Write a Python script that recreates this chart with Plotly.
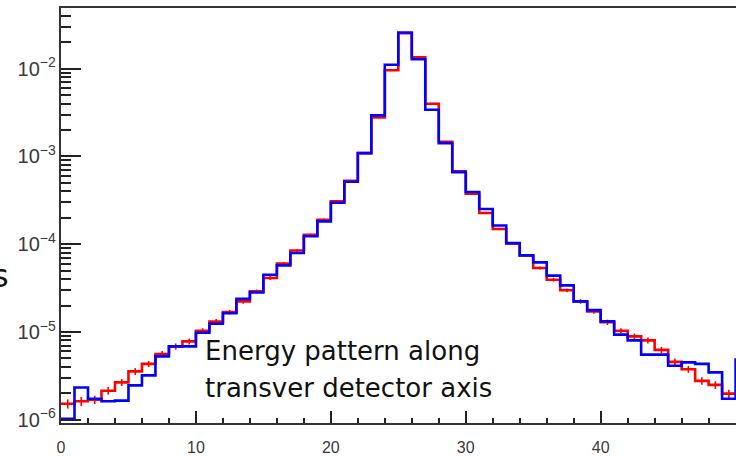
import plotly.graph_objects as go

# Bin lower edges (unit-width bins along the transverse detector axis)
bin_edges = list(range(0, 51))

# Red histogram (bins 0..49)
red_vals = [1.52e-6, 1.62e-6, 1.69e-6, 2.14e-6, 2.66e-6, 3.55e-6, 4.32e-6, 5.61e-6, 6.84e-6, 7.80e-6,
            1.03e-5, 1.31e-5, 1.68e-5, 2.23e-5, 2.90e-5, 4.12e-5, 6.00e-5, 8.49e-5, 1.28e-4, 1.90e-4,
            3.08e-4, 5.29e-4, 1.09e-3, 2.79e-3, 9.61e-3, 2.54e-2, 1.35e-2, 3.99e-3, 1.47e-3, 6.76e-4,
            3.76e-4, 2.27e-4, 1.49e-4, 1.01e-4, 7.45e-5, 5.36e-5, 3.94e-5, 2.98e-5, 2.23e-5, 1.71e-5,
            1.29e-5, 1.03e-5, 8.89e-6, 8.02e-6, 6.24e-6, 4.56e-6, 3.76e-6, 2.77e-6, 2.49e-6, 1.98e-6]

# Blue histogram (bins 0..50; the last one is only visible as the edge step)
blue_vals = [1.02e-6, 2.33e-6, 1.73e-6, 1.62e-6, 1.65e-6, 2.46e-6, 3.20e-6, 5.26e-6, 6.84e-6, 6.84e-6,
             9.80e-6, 1.24e-5, 1.63e-5, 2.38e-5, 2.82e-5, 4.49e-5, 5.73e-5, 7.94e-5, 1.23e-4, 1.82e-4,
             2.97e-4, 5.15e-4, 1.09e-3, 2.94e-3, 1.11e-2, 2.59e-2, 1.28e-2, 3.41e-3, 1.42e-3, 6.62e-4,
             3.94e-4, 2.52e-4, 1.63e-4, 1.03e-4, 7.45e-5, 6.21e-5, 4.38e-5, 3.39e-5, 2.23e-5, 1.77e-5,
             1.32e-5, 9.31e-6, 8.02e-6, 5.51e-6, 5.51e-6, 4.12e-6, 4.50e-6, 4.32e-6, 3.46e-6, 1.73e-6,
             4.83e-6]

# Relative statistical errors (percent) of the red histogram
red_err_pct = [12, 12, 11, 10, 9, 9, 8, 8, 8, 8, 7, 7, 6, 6, 5, 5, 4, 4, 3, 3,
               2, 2, 1, 1, 1, 1, 1, 1, 1, 2, 2, 3, 3, 3, 4, 4, 5, 5, 6, 6,
               7, 7, 8, 8, 8, 9, 9, 10, 10, 11]

x_ticks = [0, 10, 20, 30, 40, 50]

red_centers = [e + 0.5 for e in bin_edges[:len(red_vals)]]
red_err = [v * p / 100 for v, p in zip(red_vals, red_err_pct)]

fig = go.Figure()

# red step histogram
fig.add_trace(go.Scatter(
    x=bin_edges[:len(red_vals)] + [bin_edges[len(red_vals)]],
    y=red_vals + [red_vals[-1]],
    mode="lines", line=dict(color="#ff0000", width=2.6, shape="hv"),
    showlegend=False, hoverinfo="skip"))
# red error bars
fig.add_trace(go.Scatter(
    x=red_centers, y=red_vals, mode="markers",
    marker=dict(size=1, color="#ff0000"),
    error_y=dict(type="data", array=red_err, visible=True, color="#ff0000", thickness=1.6, width=0),
    showlegend=False, hoverinfo="skip"))
# blue step histogram
blue_x = [bin_edges[i] for i in range(len(blue_vals))]
fig.add_trace(go.Scatter(
    x=blue_x + [blue_x[-1] + 1],
    y=blue_vals + [blue_vals[-1]],
    mode="lines", line=dict(color="#0000ff", width=2.6, shape="hv"),
    showlegend=False, hoverinfo="skip"))

axis_font = dict(family="Liberation Sans", size=16, color="#3a3a3a")

fig.update_layout(
    width=736, height=456,
    margin=dict(l=61, r=0, t=8, b=33),
    paper_bgcolor="white", plot_bgcolor="white",
    xaxis=dict(
        range=[0, 50.03], tickmode="array", tickvals=x_ticks, automargin=False,
        ticks="inside", ticklen=12, tickwidth=1.5, tickcolor="#222",
        ticklabelstandoff=9,
        minor=dict(ticks="inside", ticklen=5, tickwidth=1.5, tickcolor="#222", dtick=2),
        showline=True, linecolor="#333", linewidth=2, mirror=True,
        showgrid=False, zeroline=False, tickfont=axis_font,
    ),
    yaxis=dict(
        type="log", range=[-6.038, -1.308], dtick=1, automargin=False,
        exponentformat="power",
        ticks="inside", ticklen=20, tickwidth=1.5, tickcolor="#222",
        minor=dict(ticks="inside", ticklen=10, tickwidth=1.5, tickcolor="#222", dtick="D1"),
        showline=True, linecolor="#333", linewidth=2, mirror=False,
        showgrid=False, zeroline=False, tickfont=axis_font,
    ),
    annotations=[
        dict(text="Energy pattern along", xref="paper", yref="paper",
             x=(203 - 61) / 675, y=(423 - 351) / 415, xanchor="left", yanchor="middle",
             showarrow=False, font=dict(family="DejaVu Sans", size=26, color="#111")),
        dict(text="transver detector axis", xref="paper", yref="paper",
             x=(203 - 61) / 675, y=(423 - 388) / 415, xanchor="left", yanchor="middle",
             showarrow=False, font=dict(family="DejaVu Sans", size=26, color="#111")),
        dict(text="s", xref="paper", yref="paper",
             x=(11 - 61) / 675, y=(423 - 276) / 415, xanchor="right", yanchor="middle",
             showarrow=False, font=dict(family="DejaVu Sans", size=32, color="#111")),
    ],
)

fig.write_html("out.html", config={"displayModeBar": False},
               post_script="document.body.style.margin='0';")
